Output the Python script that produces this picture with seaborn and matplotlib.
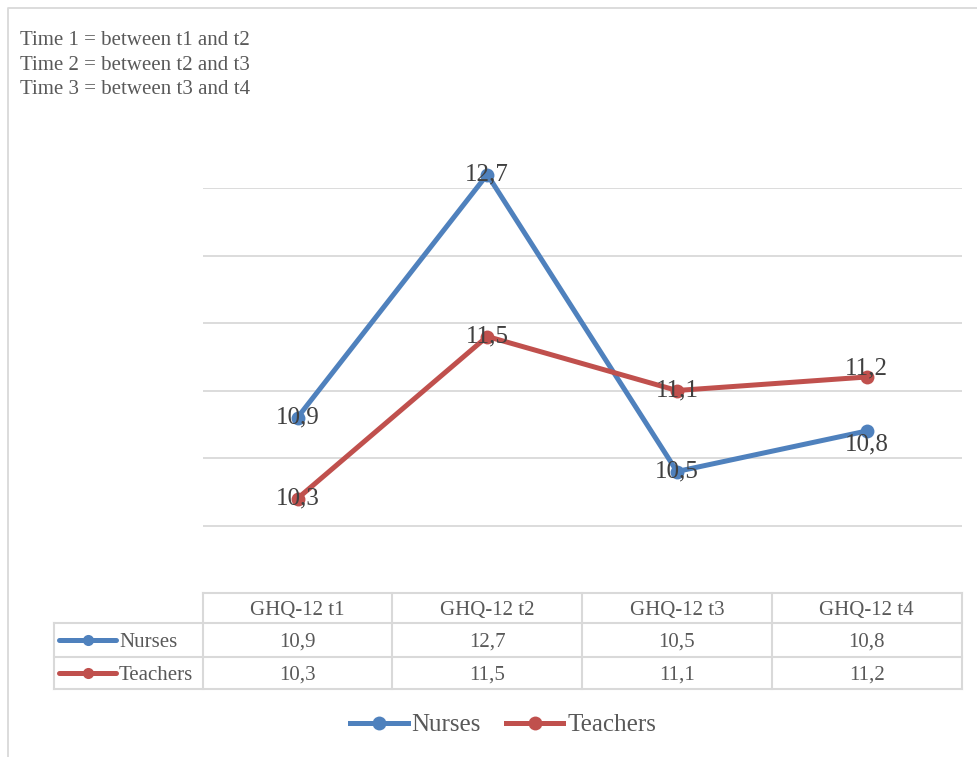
import numpy as np
import pandas as pd
import matplotlib
matplotlib.use("Agg")
import matplotlib.pyplot as plt
import seaborn as sns
from matplotlib.lines import Line2D

# Daten
categories = ["GHQ-12 t1", "GHQ-12 t2", "GHQ-12 t3", "GHQ-12 t4"]
groups = ["Nurses", "Teachers"]
nurses = [10.9, 12.7, 10.5, 10.8]
teachers = [10.3, 11.5, 11.1, 11.2]
notes = ["Time 1 = between t1 and t2",
         "Time 2 = between t2 and t3",
         "Time 3 = between t3 and t4"]

colors = {"Nurses": "#4F81BD", "Teachers": "#C0504D"}
values = {"Nurses": nurses, "Teachers": teachers}
# Versatz der Beschriftungen (Punkte), nur Stil
label_dy = {"Nurses": [0, 0, 0, -10], "Teachers": [0, 0, 0, 6]}

df = pd.DataFrame({
    "pos": list(range(len(categories))) * 2,
    "score": nurses + teachers,
    "group": ["Nurses"] * len(nurses) + ["Teachers"] * len(teachers),
})

def fmt(v):
    return f"{v:.1f}".replace(".", ",")

serif = "Liberation Serif"
grey = "#595959"
line_c = "#D9D9D9"

W, H = 977, 757
fig = plt.figure(figsize=(W / 100, H / 100), dpi=100)

# Overlay in Pixelkoordinaten
ov = fig.add_axes([0, 0, 1, 1], zorder=0)
ov.set_xlim(0, W)
ov.set_ylim(H, 0)
ov.axis("off")

# Diagrammbereich
x0, x1, y0, y1 = 202.7, 961.5, 188, 593
ax = fig.add_axes([x0 / W, 1 - y1 / H, (x1 - x0) / W, (y1 - y0) / H], zorder=1)
ax.patch.set_alpha(0)
sns.lineplot(data=df, x="pos", y="score", hue="group", hue_order=groups,
             palette=colors, marker="o", markersize=10, markeredgewidth=0,
             linewidth=3.6, ax=ax, clip_on=False, zorder=3)
ax.set_xlim(-0.5, len(categories) - 0.5)
ax.set_ylim(9.6, 12.6)
ax.set_yticks(np.arange(10.1, 12.61, 0.5))
ax.yaxis.grid(True, color=line_c, lw=1.3)
ax.set_axisbelow(True)
ax.tick_params(left=False, labelleft=False, bottom=False, labelbottom=False)
for s in ax.spines.values():
    s.set_visible(False)
ax.set_xlabel("")
ax.set_ylabel("")

for g in groups:
    for i, v in enumerate(values[g]):
        ax.annotate(fmt(v), (i, v), xytext=(0, label_dy[g][i]), textcoords="offset points",
                    ha="center", va="center", fontsize=18, family=serif,
                    color="#404040", zorder=5, annotation_clip=False)

# Legende unten
leg = ax.get_legend()
handles = leg.legend_handles
labels = [t.get_text() for t in leg.get_texts()]
leg.remove()
fig.legend(handles, labels, loc="center", bbox_to_anchor=(503 / W, 1 - 725 / H),
           ncol=2, frameon=False, handlelength=2.3, handletextpad=0.15,
           columnspacing=1.0, prop={"family": serif, "size": 18}, labelcolor=grey)

# Rahmen
ov.plot([8, 8, W + 5], [H + 5, 8, 8], color=line_c, lw=1.3)

# Notizen oben links
for k, t in enumerate(notes):
    ov.text(20, 45 + k * 24.5, t, fontsize=15, family=serif, color=grey, va="baseline")

# Datentabelle
col_edges = np.linspace(x0, x1, len(categories) + 1)
row_edges = [593, 623.3, 656.7, 689.3]
lx = 54
kw = dict(color=line_c, lw=1.5, solid_capstyle="projecting")
ov.plot([x0, x1], [row_edges[0], row_edges[0]], **kw)
for r in row_edges[1:]:
    ov.plot([lx, x1], [r, r], **kw)
for c in col_edges:
    ov.plot([c, c], [row_edges[0], row_edges[-1]], **kw)
ov.plot([lx, lx], [row_edges[1], row_edges[-1]], **kw)

for j, cat in enumerate(categories):
    cx = (col_edges[j] + col_edges[j + 1]) / 2
    ov.text(cx, 615, cat, ha="center", va="baseline", fontsize=15, family=serif, color=grey)
    for r, g in enumerate(groups):
        ov.text(cx, 647 + r * 32.5, fmt(values[g][j]), ha="center", va="baseline",
                fontsize=15, family=serif, color=grey)

for r, g in enumerate(groups):
    yc = (row_edges[r + 1] + row_edges[r + 2]) / 2
    ov.add_line(Line2D([59, 116], [yc, yc], color=colors[g], lw=3.6,
                       solid_capstyle="round"))
    ov.plot([87.5], [yc], marker="o", markersize=8, markeredgewidth=0, color=colors[g])
    ov.text(119, 647 + r * 32.5, g, ha="left", va="baseline", fontsize=15,
            family=serif, color=grey)

fig.savefig("out.png", dpi=100)
